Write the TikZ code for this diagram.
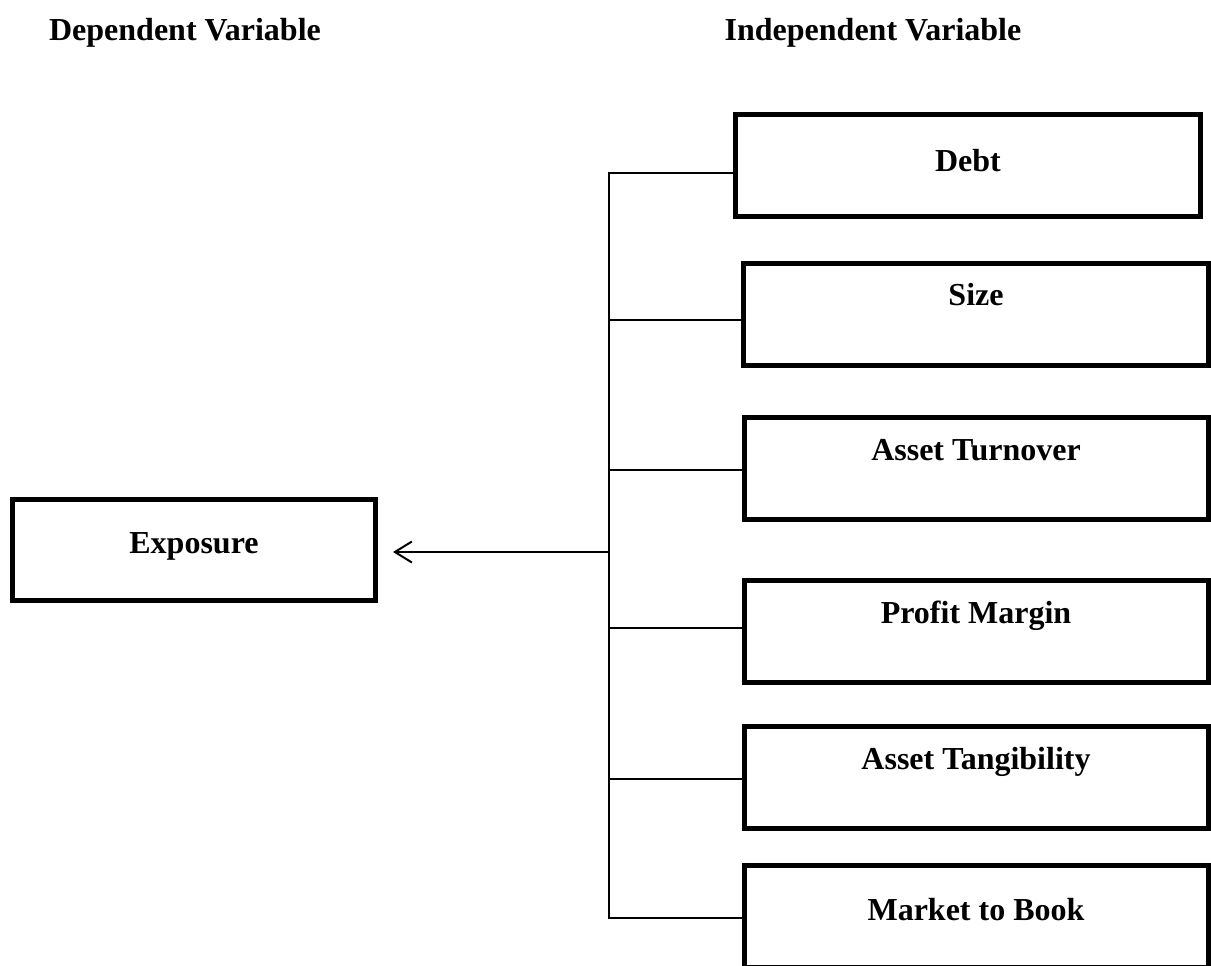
\documentclass[tikz,border=0pt]{standalone}
\usepackage{fontspec}
\setmainfont{Liberation Serif}
\usetikzlibrary{arrows.meta}
\begin{document}
\begin{tikzpicture}[x=1pt,y=-1pt,
  varbox/.style={draw=black,line width=5pt,fill=white,inner sep=0pt,minimum width=#1,minimum height=102pt},
  vartext/.style={anchor=base,font=\fontsize{32}{38}\selectfont\bfseries,inner sep=0pt},
  link/.style={draw=black,line width=2pt},
]
\useasboundingbox (0,0) rectangle (1211,966);
\clip (0,0) rectangle (1211,966);
% headers
\node[vartext] (hdep) at (185,41) {Dependent Variable};
\node[vartext] (hind) at (873,41) {Independent Variable};
% boxes
\node[varbox=465pt] (debt) at (968,165.5) {};
\node[varbox=465pt] (size) at (976,314.5) {};
\node[varbox=464pt] (turn) at (976.5,468.5) {};
\node[varbox=464pt] (prof) at (976.5,631.5) {};
\node[varbox=464pt] (tang) at (976.5,777.5) {};
\node[varbox=464pt] (mtb)  at (976.5,916.5) {};
\node[varbox=363pt,minimum height=101pt] (expo) at (194,550) {};
% texts
\node[vartext] (tdebt) at (968,171) {Debt};
\node[vartext] (tsize) at (976,305) {Size};
\node[vartext] (tturn) at (976,460) {Asset Turnover};
\node[vartext] (tprof) at (976,623) {Profit Margin};
\node[vartext] (ttang) at (976,769) {Asset Tangibility};
\node[vartext] (tmtb)  at (976,920) {Market to Book};
\node[vartext] (texpo) at (194,553) {Exposure};
% trunk junctions
\coordinate (j1) at (609,173);
\coordinate (j2) at (609,320);
\coordinate (j3) at (609,470);
\coordinate (jm) at (609,552);
\coordinate (j4) at (609,628);
\coordinate (j5) at (609,779);
\coordinate (j6) at (609,918);
\coordinate (tip) at (393,552);
\draw[link] (j1 -| debt.west) -- (j1) -- (j6) -- (j6 -| mtb.west);
\draw[link] (j2) -- (j2 -| size.west);
\draw[link] (j3) -- (j3 -| turn.west);
\draw[link] (j4) -- (j4 -| prof.west);
\draw[link] (j5) -- (j5 -| tang.west);
\draw[link,-{Straight Barb[length=17pt,width=21pt,line width=2pt]}] (jm) -- (tip);
\end{tikzpicture}
\end{document}
